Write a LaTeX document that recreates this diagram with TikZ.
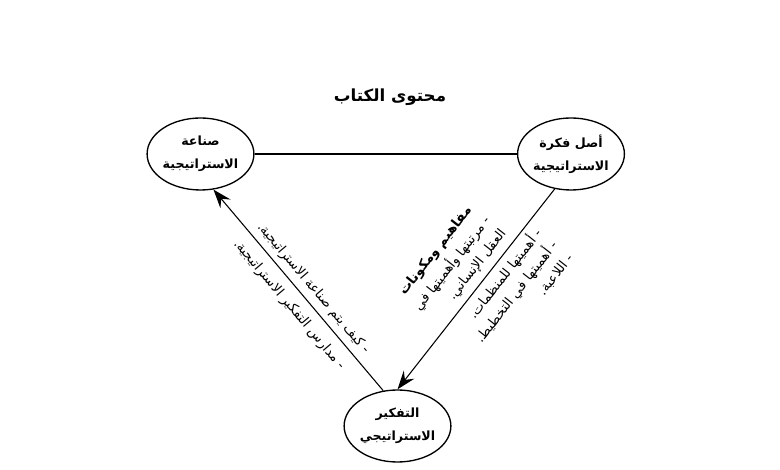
\documentclass[tikz,border=0pt]{standalone}
\usepackage{fontspec}
\usepackage{tikz}
\usetikzlibrary{positioning,shapes.geometric,arrows.meta}
\newfontfamily\arabicfont[Script=Arabic]{DejaVu Sans}
\TeXXeTstate=1
\newcommand{\artext}[1]{\beginR #1\endR}

\begin{document}
\begin{tikzpicture}[x=0.75pt,y=0.75pt,
	topicnode/.style={ellipse, draw=black, line width=1pt, minimum width=68pt, minimum height=54pt, inner sep=0pt, align=center, font=\arabicfont\bfseries\fontsize{9.5}{17}\selectfont},
	notenode/.style={sloped, inner sep=3pt, font=\arabicfont\fontsize{10}{15}\selectfont},
	linkline/.style={line width=0.8pt},
	linkarrow/.style={linkline, -{Stealth[length=14pt,width=10pt,inset=5pt]}},
	]
	\useasboundingbox (0,0) rectangle (780,470);
	%Nodes
	\node[font=\arabicfont\bfseries\fontsize{12.5}{14}\selectfont](title) at (390,373){\artext{محتوى الكتاب}};
	\node[topicnode](make) at (200.5,316){\artext{صناعة}\\\artext{الاستراتيجية}};
	\node[topicnode](origin) at (571,316){\artext{أصل فكرة}\\\artext{الاستراتيجية}};
	\node[topicnode](think) at (397.5,44){\artext{التفكير}\\\artext{الاستراتيجي}};

	%Lines
	\draw[linkline] (make.east) -- (origin.west);
	\draw[linkarrow] (origin.245) --
		node[notenode,pos=0.48,anchor=south]{\begin{tabular}{@{}r@{}}\multicolumn{1}{@{}c@{}}{\bfseries\artext{مفاهيم ومكونات}}\\[1pt] \artext{- مرتبتها وأهميتها في}\\ \artext{العقل الإنساني.}\end{tabular}}
		node[notenode,pos=0.15,anchor=north east,align=right]{\artext{- أهميتها للمنظمات.}\\\artext{- أهميتها في التخطيط.}\\\artext{- اللاعبة.}}
		(think.north);
	\draw[linkarrow] (think.112) --
		node[notenode,pos=0.13,anchor=south east,inner sep=4pt]{\artext{- كيف يتم صناعة الاستراتيجية.}}
		node[notenode,pos=0.13,anchor=north east,inner sep=7pt]{\artext{- مدارس التفكير الاستراتيجية.}}
		(make.-70);
\end{tikzpicture}
\end{document}
